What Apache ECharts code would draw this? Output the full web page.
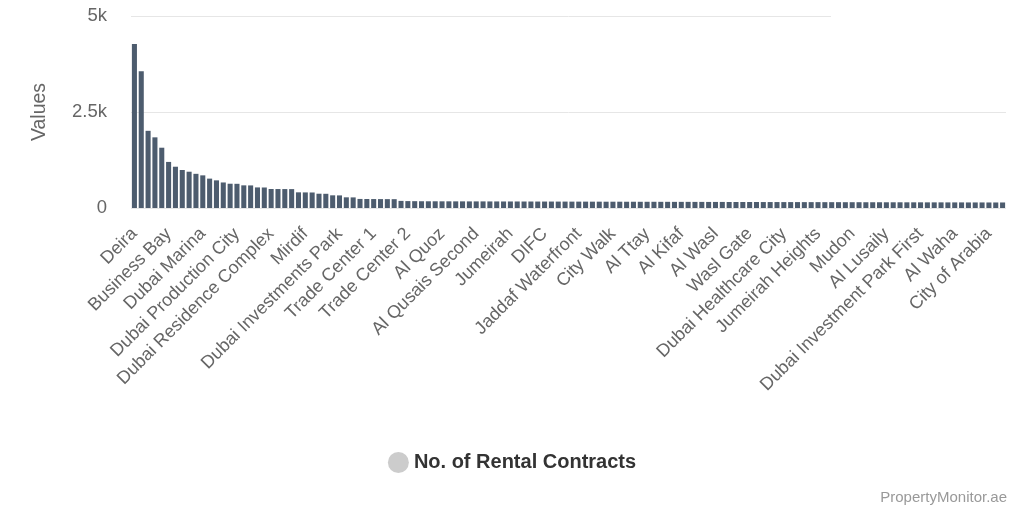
<!DOCTYPE html>
<html>
<head>
<meta charset="utf-8">
<script src="https://cdn.jsdelivr.net/npm/echarts@6/dist/echarts.min.js"></script>
<style>
html,body{margin:0;padding:0;background:#fff;}
#chart{width:1024px;height:512px;}
</style>
</head>
<body>
<div id="chart"></div>
<script>
const categories = [
"Deira","Bur Dubai","Al Barsha","International City","Jumeirah Lake Towers",
"Business Bay","Al Nahda","Downtown Dubai","Al Qusais","Discovery Gardens",
"Dubai Marina","Jumeirah Village Triangle","Dubai Silicon Oasis","Arjan","Al Karama",
"Dubai Production City","Dubai Sports City","Motor City","The Greens","Al Furjan",
"Dubai Residence Complex","Al Mankhool","Town Square","Palm Jumeirah","Dubai Hills Estate",
"Mirdif","Al Satwa","Damac Hills","Arabian Ranches","Dubai South",
"Dubai Investments Park","Al Jaddaf","Al Warqa","Muhaisnah","Al Safa",
"Trade Center 1","Umm Suqeim","Emirates Hills","The Views","Al Sufouh",
"Trade Center 2","Nad Al Hamar","Al Garhoud","Oud Metha","Umm Hurair",
"Al Quoz","Al Rashidiya","Al Twar","Hor Al Anz","Port Saeed",
"Al Qusais Second","Al Mizhar","Al Muraqqabat","Al Rigga","Naif",
"Jumeirah","Al Hudaiba","Al Bada","Al Jafiliya","Zabeel",
"DIFC","Bluewaters","La Mer","Meydan","Sobha Hartland",
"Jaddaf Waterfront","Culture Village","Dubai Creek Harbour","Ras Al Khor","Nad Al Sheba",
"City Walk","Al Raffa","Al Hamriya","Al Baraha","Al Muteena",
"Al Ttay","Al Khawaneej","Al Awir","Warsan","Al Barsha South",
"Al Kifaf","Al Mina","Al Souq Al Kabeer","Al Fahidi","Umm Ramool",
"Al Wasl","Al Manara","Al Quoz Industrial","Barsha Heights","Dubai Knowledge Park",
"Wasl Gate","Jebel Ali","Dubai Industrial City","Green Community","Jumeirah Park",
"Dubai Healthcare City","Jumeirah Islands","The Springs","The Meadows","The Lakes",
"Jumeirah Heights","Dubai Studio City","Dubai Media City","Dubai Internet City","Arabian Ranches 2",
"Mudon","Villanova","Serena","Reem","Tilal Al Ghaf",
"Al Lusaily","Al Hebiah","Dubai Land","Living Legends","Majan",
"Dubai Investment Park First","Dubai Investment Park Second","Liwan","Remraam","Mira",
"Al Waha","Al Yelayiss","Dubai Waterfront","Emirates Living","Al Khail Heights",
"City of Arabia","Falcon City","Dubai Lifestyle City"
];

const rentalContracts = [
4270,3560,2010,1840,1570,1200,1075,990,945,890,
850,765,720,665,632,630,590,588,536,534,
495,494,493,492,408,406,404,372,370,330,
328,278,276,236,234,233,232,231,230,185,
180,178,176,175,175,174,174,173,173,172,
172,172,171,171,170,170,170,169,169,168,
168,168,167,167,166,166,166,165,165,164,
164,164,163,163,162,162,162,161,161,160,
160,160,159,159,158,158,158,157,157,156,
156,156,155,155,155,154,154,154,153,153,
153,152,152,152,151,151,151,150,150,150,
149,149,149,148,148,148,147,147,147,146,
146,146,145,145,145,144,144,144
];

const yTicks = {0:"0",2500:"2.5k",5000:"5k"};

const chart = echarts.init(document.getElementById('chart'));
const font = "'Liberation Sans', Arial, sans-serif";
chart.setOption({
  animation:false,
  textStyle:{fontFamily:font},
  grid:{left:131,right:18,top:16,bottom:304,containLabel:false},
  legend:{
    show:true,
    top:447,
    left:'center',
    icon:'circle',
    itemWidth:21,itemHeight:21,itemGap:10,
    data:[{name:'No. of Rental Contracts',itemStyle:{color:'#cccccc'}}],
    textStyle:{fontSize:20,fontWeight:'bold',color:'#333333',fontFamily:font}
  },
  xAxis:{
    type:'category',
    data:categories,
    axisLine:{show:false},
    axisTick:{show:false},
    axisLabel:{interval:4,rotate:45,fontSize:18,color:'#666666',margin:23,fontFamily:font},
    splitLine:{show:false}
  },
  yAxis:{
    type:'value',
    min:0,max:5000,interval:2500,
    name:'Values',
    nameLocation:'middle',
    nameRotate:90,
    nameGap:81,
    nameTextStyle:{fontSize:19.5,color:'#666666',fontFamily:font},
    axisLine:{show:false},
    axisTick:{show:false},
    axisLabel:{fontSize:18.5,color:'#666666',margin:24,formatter:v=>yTicks[v]!==undefined?yTicks[v]:'',fontFamily:font},
    splitLine:{lineStyle:{color:'#e6e6e6',width:1}}
  },
  series:[{
    name:'No. of Rental Contracts',
    type:'bar',
    data:rentalContracts,
    barCategoryGap:'26%',
    itemStyle:{color:'#4d5c6e'}
  }],
  graphic:[
    {type:'rect',shape:{x:831,y:0,width:193,height:60},style:{fill:'#ffffff'},z:100},
    {type:'text',right:17,top:490,style:{text:'PropertyMonitor.ae',fill:'#999999',fontSize:15,fontFamily:font},z:100}
  ]
});
</script>
</body>
</html>
